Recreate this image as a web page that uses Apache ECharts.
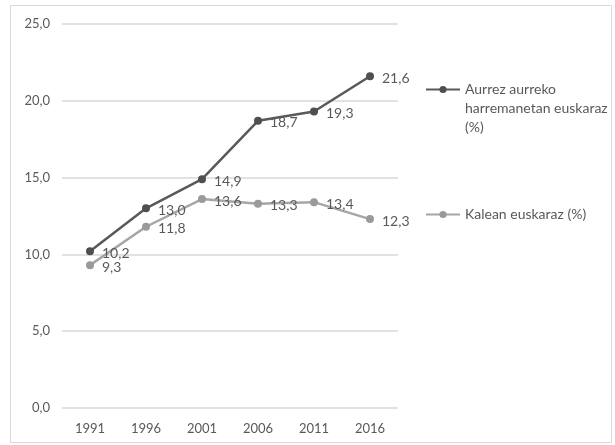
<!DOCTYPE html>
<html>
<head>
<meta charset="utf-8">
<script src="https://cdn.jsdelivr.net/npm/echarts@6/dist/echarts.min.js"></script>
<style>
  html, body { margin: 0; padding: 0; background: #ffffff; }
  #chart { width: 615px; height: 445px; }
</style>
</head>
<body>
<div id="chart"></div>
<script>
// Survey years
var years = ['1991', '1996', '2001', '2006', '2011', '2016'];
// Basque used in face-to-face relations (%)
var aurrezAurre = [10.2, 13.0, 14.9, 18.7, 19.3, 21.6];
// Basque used in the street (%)
var kalean = [9.3, 11.8, 13.6, 13.3, 13.4, 12.3];
// Series names
var nameAurrez = 'Aurrez aurreko\nharremanetan euskaraz\n(%)';
var nameKalean = 'Kalean euskaraz (%)';

var FONT = 'Lato, "Open Sans", sans-serif';
var TEXT = '#595959';

function comma(v) {
  return Number(v).toFixed(1).replace('.', ',');
}

var chart = echarts.init(document.getElementById('chart'), null, { renderer: 'canvas' });

chart.setOption({
  backgroundColor: '#ffffff',
  animation: false,
  textStyle: { fontFamily: FONT },
  graphic: [{
    type: 'rect',
    shape: { x: 10.5, y: 5.5, width: 601, height: 437 },
    style: { fill: 'none', stroke: '#d9d9d9', lineWidth: 1 },
    silent: true
  }],
  grid: { left: 62, right: 217, top: 24, bottom: 37, containLabel: false },
  legend: [{
    data: [nameAurrez],
    orient: 'vertical',
    left: 425,
    top: 42,
    padding: 0,
    itemWidth: 34,
    itemHeight: 9,
    // two blank lines above keep the first text line level with the icon
    formatter: function (name) { return '\n\n' + name; },
    textStyle: { color: TEXT, fontSize: 14, fontFamily: FONT, lineHeight: 19 }
  }, {
    data: [nameKalean],
    orient: 'vertical',
    left: 425,
    top: 205,
    padding: 0,
    itemWidth: 34,
    itemHeight: 9,
    textStyle: { color: TEXT, fontSize: 14, fontFamily: FONT, lineHeight: 19 }
  }],
  xAxis: {
    type: 'category',
    data: years,
    boundaryGap: true,
    axisLine: { show: false },
    axisTick: { show: false },
    axisLabel: { color: TEXT, fontSize: 13, fontFamily: FONT, margin: 14 },
    splitLine: { show: false }
  },
  yAxis: {
    type: 'value',
    min: 0,
    max: 25,
    interval: 5,
    axisLine: { show: false },
    axisTick: { show: false },
    axisLabel: {
      color: TEXT, fontSize: 13, fontFamily: FONT, margin: 12,
      formatter: function (v) { return comma(v); }
    },
    splitLine: { lineStyle: { color: '#d9d9d9', width: 1.5 } }
  },
  series: [{
    name: nameAurrez,
    type: 'line',
    data: aurrezAurre,
    symbol: 'circle',
    symbolSize: 8,
    lineStyle: { color: '#595959', width: 2.5 },
    itemStyle: { color: '#4f4f4f' },
    label: {
      show: true,
      position: 'right',
      distance: 8,
      offset: [0, 2],
      color: TEXT,
      fontSize: 14,
      fontFamily: FONT,
      formatter: function (p) { return comma(p.value); }
    },
    z: 3
  }, {
    name: nameKalean,
    type: 'line',
    data: kalean,
    symbol: 'circle',
    symbolSize: 8,
    lineStyle: { color: '#a6a6a6', width: 2.5 },
    itemStyle: { color: '#9a9a9a' },
    label: {
      show: true,
      position: 'right',
      distance: 8,
      offset: [0, 2],
      color: TEXT,
      fontSize: 14,
      fontFamily: FONT,
      formatter: function (p) { return comma(p.value); }
    },
    z: 2
  }]
});
</script>
</body>
</html>
